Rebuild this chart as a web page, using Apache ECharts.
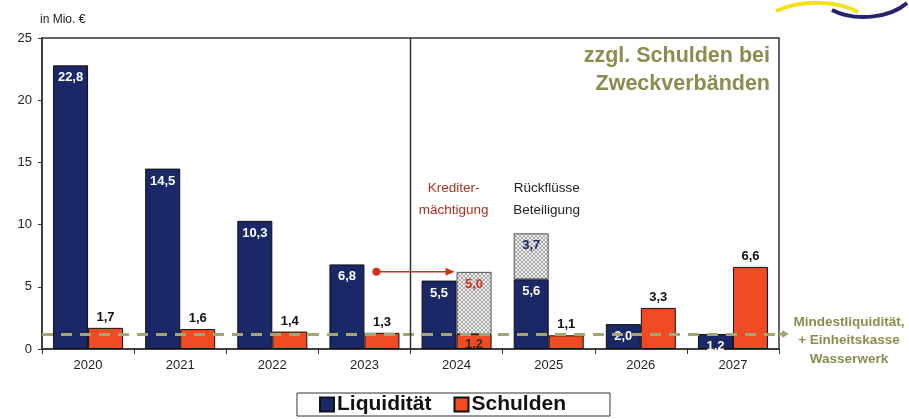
<!DOCTYPE html>
<html>
<head>
    <meta charset="utf-8">
    <title>Liquidität und Schulden</title>
    <script src="https://cdn.jsdelivr.net/npm/echarts@6/dist/echarts.min.js"></script>
    <style>
        html, body { margin: 0; padding: 0; background: #fff; }
        #main { width: 909px; height: 419px; }
    </style>
</head>
<body>
<div id="main"></div>
<script type="text/javascript">
    // Daten
    var jahre = ['2020', '2021', '2022', '2023', '2024', '2025', '2026', '2027'];
    var liquiditaet = [22.8, 14.5, 10.3, 6.8, 5.5, 5.6, 2.0, 1.2];
    var schulden = [1.7, 1.6, 1.4, 1.3, 1.2, 1.1, 3.3, 6.6];
    var rueckfluesse = [null, null, null, null, null, 3.7, null, null];   // auf Liquidität gestapelt
    var kreditermaechtigung = [null, null, null, null, 5.0, null, null, null]; // auf Schulden gestapelt
    var mindestliquiditaet = 1.2;
    var yTicks = [0, 5, 10, 15, 20, 25];

    var navy = '#1b2867';
    var orange = '#f04b22';
    var oliv = '#8b8c4e';

    function komma(v) {
        return v.toFixed(1).replace('.', ',');
    }

    // Schraffur-Muster
    var pat = document.createElement('canvas');
    pat.width = 4; pat.height = 4;
    var c = pat.getContext('2d');
    c.fillStyle = '#ececec';
    c.fillRect(0, 0, 4, 4);
    c.strokeStyle = '#9a9a9a';
    c.lineWidth = 0.8;
    c.beginPath();
    c.moveTo(0, 4); c.lineTo(4, 0);
    c.moveTo(0, 0); c.lineTo(4, 4);
    c.stroke();

    var myChart = echarts.init(document.getElementById('main'));

    var schuldenDaten = schulden.map(function (v, i) {
        if (i === 4) {
            return {value: v, label: {position: 'insideTop', color: '#3a2a20', distance: 4}};
        }
        return v;
    });

    var option = {
        animation: false,
        textStyle: {fontFamily: 'Liberation Sans, Arial, sans-serif'},
        grid: {left: 42, right: 130, top: 38, bottom: 70, show: true, borderColor: '#333', borderWidth: 1.5},
        legend: {
            data: ['Liquidität', 'Schulden'],
            left: 297,
            top: 393,
            itemWidth: 14,
            itemHeight: 14,
            itemGap: 22,
            padding: [1, 44, 1, 22],
            borderColor: '#333',
            borderWidth: 1,
            icon: 'rect',
            textStyle: {fontSize: 21, fontWeight: 'bold', color: '#111', padding: [0, 0, 0, -2]}
        },
        xAxis: {
            type: 'category',
            data: jahre,
            axisLine: {lineStyle: {color: '#333', width: 1.5}},
            axisTick: {show: true, length: 5, lineStyle: {color: '#333'}},
            axisLabel: {fontSize: 13, color: '#222', margin: 10}
        },
        yAxis: {
            type: 'value',
            min: 0,
            max: 25,
            interval: 5,
            splitLine: {show: false},
            axisLine: {show: true, lineStyle: {color: '#333', width: 1.5}},
            axisTick: {show: true, length: 4, lineStyle: {color: '#333'}},
            axisLabel: {fontSize: 13, color: '#222', margin: 10}
        },
        series: [
            {
                name: 'Liquidität',
                type: 'bar',
                stack: 'liq',
                barWidth: 35,
                barGap: '0%',
                data: liquiditaet,
                itemStyle: {color: navy, borderColor: '#111', borderWidth: 1},
                label: {
                    show: true, position: 'insideTop', distance: 6,
                    color: '#fff', fontSize: 13, fontWeight: 'bold',
                    formatter: function (p) { return komma(p.value); }
                }
            },
            {
                name: 'Schulden',
                type: 'bar',
                stack: 'sch',
                barWidth: 35,
                barGap: '0%',
                data: schuldenDaten,
                itemStyle: {color: orange, borderColor: '#111', borderWidth: 1},
                label: {
                    show: true, position: 'top', distance: 4,
                    color: '#111', fontSize: 13, fontWeight: 'bold',
                    formatter: function (p) { return komma(p.value); }
                },
                markLine: {
                    silent: true,
                    symbol: ['none', 'none'],
                    label: {show: false},
                    lineStyle: {color: '#a3a577', type: [11, 8], width: 3},
                    data: [{yAxis: mindestliquiditaet}]
                }
            },
            {
                name: 'Rückflüsse Beteiligung',
                type: 'bar',
                stack: 'liq',
                barWidth: 35,
                data: rueckfluesse,
                itemStyle: {color: {image: pat, repetition: 'repeat'}, borderColor: '#555', borderWidth: 1},
                label: {
                    show: true, position: 'insideTop', distance: 6,
                    color: navy, fontSize: 13, fontWeight: 'bold',
                    formatter: function (p) { return komma(p.value); }
                }
            },
            {
                name: 'Kreditermächtigung',
                type: 'bar',
                stack: 'sch',
                barWidth: 35,
                data: kreditermaechtigung,
                itemStyle: {color: {image: pat, repetition: 'repeat'}, borderColor: '#555', borderWidth: 1},
                label: {
                    show: true, position: 'insideTop', distance: 6,
                    color: '#d0301c', fontSize: 13, fontWeight: 'bold',
                    formatter: function (p) { return komma(p.value); }
                }
            }
        ]
    };

    myChart.setOption(option);

    // Anmerkungen über die Achsen positionieren
    var p23 = myChart.convertToPixel({xAxisIndex: 0, yAxisIndex: 0}, ['2023', 6.2]);
    var p24 = myChart.convertToPixel({xAxisIndex: 0, yAxisIndex: 0}, ['2024', 6.2]);
    var p25 = myChart.convertToPixel({xAxisIndex: 0, yAxisIndex: 0}, ['2025', 6.2]);
    var pMin = myChart.convertToPixel({yAxisIndex: 0}, mindestliquiditaet);
    var teiler = (p23[0] + p24[0]) / 2;
    var gridRect = {left: 42, right: 909 - 130, top: 38, bottom: 419 - 70};

    myChart.setOption({
        graphic: [
            {type: 'text', left: 40, top: 14, style: {text: 'in Mio. €', fontSize: 12, fill: '#222', fontFamily: 'Liberation Sans'}},
            {type: 'line', shape: {x1: teiler, y1: gridRect.top, x2: teiler, y2: gridRect.bottom},
                style: {stroke: '#333', lineWidth: 1.5}, z: 5},
            {type: 'text', x: gridRect.right - 9, y: 42, style: {
                text: 'zzgl. Schulden bei\nZweckverbänden', align: 'right', fontSize: 21.5, fontWeight: 'bold',
                lineHeight: 28, fill: oliv, fontFamily: 'Liberation Sans'}},
            {type: 'text', x: p24[0] - 3, y: 177, style: {
                text: 'Krediter-\nmächtigung', align: 'center', fontSize: 13.5, lineHeight: 22,
                fill: '#a8321f', fontFamily: 'Liberation Sans'}},
            {type: 'text', x: p25[0] - 2, y: 177, style: {
                text: 'Rückflüsse\nBeteiligung', align: 'center', fontSize: 13.5, lineHeight: 22,
                fill: '#222', fontFamily: 'Liberation Sans'}},
            // roter Pfeil 2023 -> 2024
            {type: 'circle', shape: {cx: p23[0] + 12, cy: p23[1], r: 4}, style: {fill: '#d0301c'}, z: 10},
            {type: 'line', shape: {x1: p23[0] + 12, y1: p23[1], x2: p24[0] - 4, y2: p23[1]},
                style: {stroke: '#d0301c', lineWidth: 1.5}, z: 10},
            {type: 'polygon', shape: {points: [[p24[0] - 2, p23[1]], [p24[0] - 11, p23[1] - 4], [p24[0] - 11, p23[1] + 4]]},
                style: {fill: '#d0301c'}, z: 10},
            // Verlängerung Mindestliquidität mit Pfeilspitze
            {type: 'line', shape: {x1: gridRect.right, y1: pMin, x2: gridRect.right + 4, y2: pMin},
                style: {stroke: '#a3a577', lineWidth: 3}},
            {type: 'polygon', shape: {points: [[gridRect.right + 10, pMin], [gridRect.right + 3, pMin - 4], [gridRect.right + 3, pMin + 4]]},
                style: {fill: '#a3a577'}},
            {type: 'text', x: 849, y: 313, style: {
                text: 'Mindestliquidität,\n+ Einheitskasse\nWasserwerk', align: 'center', fontSize: 13.5, lineHeight: 18.5,
                fontWeight: 'bold', fill: oliv, fontFamily: 'Liberation Sans'}},
            // Logo oben rechts
            {type: 'bezierCurve', shape: {x1: 776, y1: 11, cpx1: 805, cpy1: -2, cpx2: 840, cpy2: 2, x2: 858, y2: 12},
                style: {stroke: '#f2e21a', lineWidth: 4, fill: null}},
            {type: 'bezierCurve', shape: {x1: 832, y1: 10, cpx1: 855, cpy1: 22, cpx2: 890, cpy2: 18, x2: 907, y2: 3},
                style: {stroke: '#27236e', lineWidth: 4, fill: null}}
        ]
    });
</script>
</body>
</html>
